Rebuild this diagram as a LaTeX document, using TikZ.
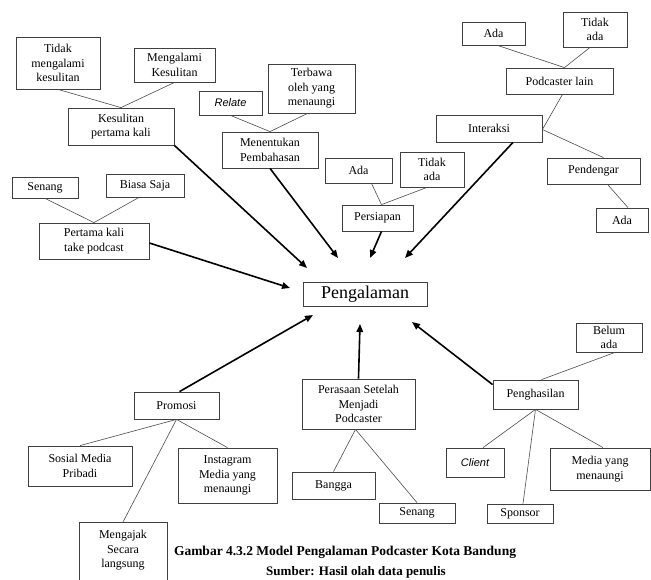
\documentclass[tikz,border=0pt]{standalone}
\usepackage{fontspec}
\setmainfont{Liberation Serif}
\setsansfont{Liberation Sans}
\usepackage{tikz}
\usetikzlibrary{arrows.meta,positioning,calc}
\tikzset{
  itembox/.style={draw=black!75, line width=0.8pt, fill=white, align=center,
    font=\fontsize{12}{14.5}\selectfont, inner sep=2pt},
  itemlink/.style={draw=black!70, line width=0.6pt},
  itemarrow/.style={draw=black, line width=1.6pt,
    -{Triangle[length=8pt,width=6.5pt]}},
  engtext/.style={font=\fontsize{11}{13}\selectfont\sffamily\itshape},
}

\begin{document}
\begin{tikzpicture}[x=1pt, y=-1pt]

\fill[white] (0,0) rectangle (651,579);
\useasboundingbox (0,0) rectangle (651,579);

%% ── Pusat ────────────────────────────────────────────────────────────────
\node[itembox, font=\fontsize{18}{20}\selectfont, minimum width=124,
      minimum height=24] (pengalaman) at (365,294) {Pengalaman};

%% ── Kesulitan pertama kali ───────────────────────────────────────────────
\node[itembox, minimum width=84, minimum height=52] (tdkmengalami) at (58,63)
  {Tidak\\mengalami\\kesulitan};
\node[itembox, minimum width=81, minimum height=34] (mengalami) at (174.5,65)
  {Mengalami\\Kesulitan};
\node[itembox, minimum width=106, minimum height=37] (kesulitan) at (121,126.5)
  {Kesulitan\\pertama kali};

\draw[itemlink] (tdkmengalami.south) -- (kesulitan.north);
\draw[itemlink] (mengalami.south) -- (kesulitan.north);

%% ── Menentukan Pembahasan ────────────────────────────────────────────────
\node[itembox, engtext, minimum width=63, minimum height=24] (relate) at (230.5,103)
  {Relate};
\node[itembox, minimum width=87, minimum height=49] (terbawa) at (311.5,88.5)
  {Terbawa\\oleh yang\\menaungi};
\node[itembox, minimum width=96, minimum height=36] (menentukan) at (270,150)
  {Menentukan\\Pembahasan};

\draw[itemlink] (relate.south) -- (menentukan.north);
\draw[itemlink] ([xshift=-4pt]terbawa.south) -- (menentukan.north);

%% ── Pertama kali take podcast ────────────────────────────────────────────
\node[itembox, minimum width=66, minimum height=21] (senang1) at (45,187.5)
  {Senang};
\node[itembox, minimum width=78, minimum height=23] (biasa) at (145,185.5)
  {Biasa Saja};
\node[itembox, minimum width=110, minimum height=36] (pertama) at (94,241)
  {Pertama kali\\take podcast};

\draw[itemlink] (senang1.south) -- (pertama.north);
\draw[itemlink] ([xshift=-6pt]biasa.south) -- (pertama.north);

%% ── Persiapan ────────────────────────────────────────────────────────────
\node[itembox, minimum width=67, minimum height=25] (ada1) at (358.5,170.5)
  {Ada};
\node[itembox, minimum width=64, minimum height=35] (tdkada1) at (432,169.5)
  {Tidak\\ada};
\node[itembox, minimum width=71, minimum height=26] (persiapan) at (377.5,218)
  {Persiapan};

\draw[itemlink] ([xshift=13pt]ada1.south) -- ([xshift=4pt]persiapan.north);
\draw[itemlink] ([xshift=-5pt]tdkada1.south) -- ([xshift=4pt]persiapan.north);

%% ── Interaksi ────────────────────────────────────────────────────────────
\node[itembox, minimum width=63, minimum height=23] (ada2) at (493.5,33.5)
  {Ada};
\node[itembox, minimum width=64, minimum height=35] (tdkada2) at (595,29.5)
  {Tidak\\ada};
\node[itembox, minimum width=107, minimum height=26] (podlain) at (559.5,81)
  {Podcaster lain};
\node[itembox, minimum width=106, minimum height=27] (interaksi) at (489,128.5)
  {Interaksi};
\node[itembox, minimum width=93, minimum height=26] (pendengar) at (593.5,171)
  {Pendengar};
\node[itembox, minimum width=52, minimum height=24] (ada3) at (622,220)
  {Ada};

\draw[itemlink] ([xshift=4pt]ada2.south) -- ([xshift=5pt]podlain.north);
\draw[itemlink] ([xshift=-5pt]tdkada2.south) -- ([xshift=5pt]podlain.north);
\draw[itemlink] ([xshift=3pt]podlain.south) -- ([yshift=-1pt]interaksi.east);
\draw[itemlink] ([yshift=-1pt]interaksi.east) -- ([xshift=10pt]pendengar.north);
\draw[itemlink] ([xshift=14pt]pendengar.south) -- ([xshift=6pt]ada3.north);

%% ── Promosi ──────────────────────────────────────────────────────────────
\node[itembox, minimum width=85, minimum height=27] (promosi) at (176.5,405.5)
  {Promosi};
\node[itembox, minimum width=104, minimum height=40] (sosial) at (80,466)
  {Sosial Media\\Pribadi};
\node[itembox, minimum width=99, minimum height=55] (instagram) at (227.5,475.5)
  {Instagram\\Media yang\\menaungi};
\node[itembox, minimum width=88, inner ysep=8pt, anchor=north] (mengajak) at (123,522)
  {Mengajak\\Secara\\langsung\\~};

\draw[itemlink] (promosi.south) -- (sosial.north);
\draw[itemlink] (promosi.south) -- (instagram.north);
\draw[itemlink] (promosi.south) -- (mengajak.north);

%% ── Perasaan Setelah Menjadi Podcaster ───────────────────────────────────
\node[itembox, minimum width=113, minimum height=50] (perasaan) at (358.5,404)
  {Perasaan Setelah\\Menjadi\\Podcaster};
\node[itembox, minimum width=83, minimum height=27] (bangga) at (333.5,485.5)
  {Bangga};
\node[itembox, minimum width=76, minimum height=20] (senang2) at (417,513)
  {Senang};

\draw[itemlink] ([xshift=-3pt]perasaan.south) -- (bangga.north);
\draw[itemlink] ([xshift=-3pt]perasaan.south) -- (senang2.north);

%% ── Penghasilan ──────────────────────────────────────────────────────────
\node[itembox, minimum width=85, minimum height=29] (penghasilan) at (535.5,394.5)
  {Penghasilan};
\node[itembox, minimum width=66, minimum height=29] (belum) at (609,337.5)
  {Belum\\ada};
\node[itembox, engtext, minimum width=58, minimum height=29] (client) at (475,462.5)
  {Client};
\node[itembox, minimum width=100, minimum height=42] (media) at (600,469)
  {Media yang\\menaungi};
\node[itembox, minimum width=66, minimum height=19] (sponsor) at (520,513.5)
  {Sponsor};

\draw[itemlink] ([xshift=6pt]belum.south) -- ([xshift=6pt]penghasilan.north);
\draw[itemlink] (penghasilan.south) -- ([xshift=8pt]client.north);
\draw[itemlink] (penghasilan.south) -- ([xshift=3pt]sponsor.north);
\draw[itemlink] (penghasilan.south) -- ([xshift=3pt]media.north);

%% ── Panah ke Pengalaman ──────────────────────────────────────────────────
\coordinate (tipkes)  at (307,268);
\coordinate (tippert) at (290,288);
\coordinate (tipmen)  at (338,258);
\coordinate (tippers) at (370,258);
\coordinate (tipint)  at (405,258);
\coordinate (tipprom) at (313,315);
\coordinate (tipras)  at (360,324);
\coordinate (tippeng) at (412,322);

\draw[itemarrow] (kesulitan.south east) -- (tipkes);
\draw[itemarrow] ([yshift=-2pt]pertama.east) -- (tippert);
\draw[itemarrow] (menentukan.south) -- (tipmen);
\draw[itemarrow] ([xshift=4pt]persiapan.south) -- (tippers);
\draw[itemarrow] ([xshift=24pt]interaksi.south) -- (tipint);
\draw[itemarrow] ([xshift=3pt]promosi.north) -- (tipprom);
\draw[itemarrow] (perasaan.north) -- (tipras);
\draw[itemarrow] ([yshift=-5pt]penghasilan.north west) -- (tippeng);

%% ── Keterangan ───────────────────────────────────────────────────────────
\node[font=\fontsize{13.5}{15}\selectfont\bfseries] (judul) at (345,552)
  {Gambar 4.3.2 Model Pengalaman Podcaster Kota Bandung};
\node[font=\fontsize{13}{15}\selectfont\bfseries, anchor=base] (sumber) at (356,575)
  {Sumber: Hasil olah data penulis};

\end{tikzpicture}
\end{document}
